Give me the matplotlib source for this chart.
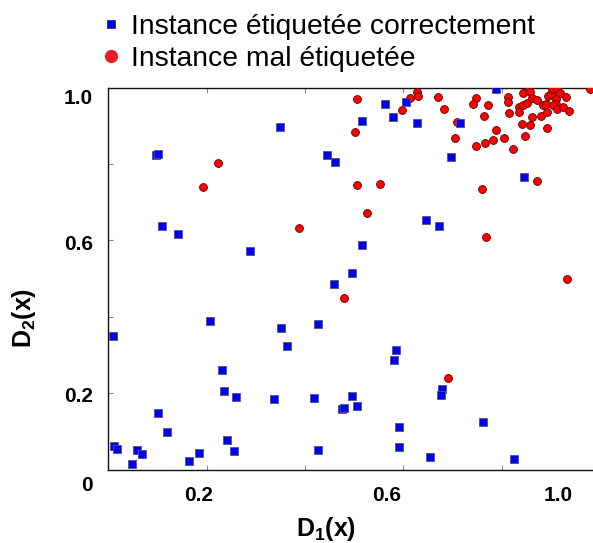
import matplotlib
matplotlib.use("Agg")
import matplotlib.pyplot as plt
from matplotlib.lines import Line2D

plt.rcParams['font.family'] = ['Liberation Sans', 'DejaVu Sans']
plt.rcParams['mathtext.fontset'] = 'custom'
plt.rcParams['mathtext.rm'] = 'Liberation Sans:bold'
plt.rcParams['mathtext.it'] = 'Liberation Sans:bold'
plt.rcParams['mathtext.bf'] = 'Liberation Sans:bold'

# ---- data ----
x_correct = [0.097, 0.102, 0.349, 0.444, 0.461, 0.562, 0.516, 0.580, 0.109, 0.141,
             0.289, 0.517, 0.496, 0.459, 0.009, 0.206, 0.351, 0.364, 0.426, 0.232,
             0.236, 0.259, 0.337, 0.419, 0.476, 0.479, 0.495, 0.505, 0.586, 0.582,
             0.101, 0.119, 0.012, 0.018, 0.058, 0.069, 0.049, 0.164, 0.184, 0.242,
             0.256, 0.426, 0.592, 0.591, 0.606, 0.628, 0.715, 0.788, 0.697, 0.846,
             0.646, 0.673, 0.679, 0.677, 0.762, 0.655, 0.825]
y_correct = [0.823, 0.826, 0.897, 0.823, 0.805, 0.958, 0.912, 0.923, 0.637, 0.617,
             0.572, 0.589, 0.516, 0.487, 0.350, 0.390, 0.370, 0.324, 0.381, 0.261,
             0.207, 0.190, 0.184, 0.187, 0.158, 0.162, 0.192, 0.167, 0.314, 0.286,
             0.149, 0.098, 0.062, 0.054, 0.052, 0.042, 0.014, 0.024, 0.044, 0.077,
             0.049, 0.052, 0.113, 0.060, 0.963, 0.907, 0.906, 0.996, 0.818, 0.767,
             0.653, 0.638, 0.212, 0.195, 0.126, 0.034, 0.027]

x_wrong = [0.507, 0.501, 0.224, 0.193, 0.507, 0.552, 0.526, 0.389, 0.480, 0.691,
           0.760, 0.768, 0.933, 0.598, 0.614, 0.628, 0.630, 0.671, 0.682, 0.709,
           0.705, 0.748, 0.741, 0.773, 0.764, 0.788, 0.782, 0.766, 0.748, 0.806,
           0.824, 0.873, 0.814, 0.814, 0.816, 0.836, 0.836, 0.843, 0.844, 0.852,
           0.856, 0.859, 0.863, 0.873, 0.863, 0.881, 0.841, 0.858, 0.847, 0.893,
           0.885, 0.891, 0.895, 0.900, 0.893, 0.902, 0.913, 0.919, 0.910, 0.910,
           0.905, 0.912, 0.926, 0.931, 0.938, 0.981]
y_wrong = [0.971, 0.884, 0.803, 0.739, 0.744, 0.747, 0.671, 0.632, 0.449, 0.240,
           0.734, 0.609, 0.500, 0.940, 0.973, 0.989, 0.978, 0.976, 0.943, 0.910,
           0.867, 0.973, 0.956, 0.955, 0.925, 0.890, 0.863, 0.856, 0.846, 0.867,
           0.838, 0.755, 0.976, 0.963, 0.933, 0.948, 0.937, 0.985, 0.955, 0.959,
           0.995, 0.987, 0.973, 0.966, 0.923, 0.925, 0.904, 0.901, 0.874, 0.895,
           0.955, 0.957, 0.979, 0.982, 0.937, 0.996, 0.996, 0.985, 0.971, 0.956,
           0.953, 0.943, 0.950, 0.976, 0.938, 0.997]

tick_marks = [0.2, 0.4, 0.6, 0.8]
x_label_pos = [0.183, 0.566, 0.916]
x_label_txt = ["0.2", "0.6", "1.0"]
y_label_pos = [0.196, 0.594, 0.976]
y_label_txt = ["0.2", "0.6", "1.0"]
legend_labels = ["Instance étiquetée correctement", "Instance mal étiquetée"]

W, H = 593, 543
fig = plt.figure(figsize=(W / 100, H / 100), dpi=100)
ax = fig.add_axes([108.3 / W, 1 - 469.8 / H, (W - 108.3) / W, (469.8 - 87.5) / H])

ax.scatter(x_wrong, y_wrong, s=32, marker='o', facecolor='#ff0000',
           edgecolor='#5a0000', linewidth=0.6, zorder=3)
ax.scatter(x_correct, y_correct, s=26, marker='s', facecolor='#0000ee',
           edgecolor='#555577', linewidth=0.6, zorder=4)

ax.set_xlim(0, (W - 108.3) / 491.5)
ax.set_ylim(0, 1)

for side in ['left', 'top', 'bottom']:
    ax.spines[side].set_color('#111111')
    ax.spines[side].set_linewidth(1.0)
ax.spines['right'].set_visible(False)

ax.set_xticks(tick_marks)
ax.set_xticklabels([])
ax.set_yticks(tick_marks)
ax.set_yticklabels([])
ax.tick_params(which='major', direction='in', length=3.5, width=0.8, color='#888888',
               top=True, bottom=True, left=True, right=False)

ax.set_xticks(x_label_pos, minor=True)
ax.set_xticklabels(x_label_txt, minor=True, fontsize=15, fontweight='bold')
ax.set_yticks(y_label_pos, minor=True)
ax.set_yticklabels(y_label_txt, minor=True, fontsize=15, fontweight='bold')
ax.tick_params(which='minor', length=0, top=False, right=False)
ax.tick_params(axis='x', which='minor', pad=12)
ax.tick_params(axis='y', which='minor', pad=11)

ax.text(-0.043, -0.040, "0", fontsize=15, fontweight='bold', ha='center', va='center',
        clip_on=False)

ax.set_xlabel(r'$\mathregular{D_1(x)}$', fontsize=18, fontweight='bold')
ax.xaxis.set_label_coords((326.5 - 108.3) / (W - 108.3), -(529 - 469.8) / (469.8 - 87.5))
ax.xaxis.label.set_va('center')
ax.set_ylabel(r'$\mathregular{D_2(x)}$', fontsize=18, fontweight='bold')
ax.yaxis.set_label_coords(-(108.3 - 24) / (W - 108.3), (469.8 - 318) / (469.8 - 87.5))
ax.yaxis.label.set_va('center')

handles = [Line2D([], [], linestyle='none', marker='s', markersize=5.5,
                  markerfacecolor='#0000ee', markeredgecolor='#333366', markeredgewidth=0.6),
           Line2D([], [], linestyle='none', marker='o', markersize=8.5,
                  markerfacecolor='#ee1c24', markeredgecolor='#ee1c24')]
fig.legend(handles, legend_labels, loc='upper left',
           bbox_to_anchor=(99 / W, 1 - 14 / H), frameon=False, fontsize=20.3,
           handlelength=0.85, handletextpad=0.3, labelspacing=0.2, borderpad=0.0,
           borderaxespad=0.0)

fig.savefig('out.png', dpi=100)
